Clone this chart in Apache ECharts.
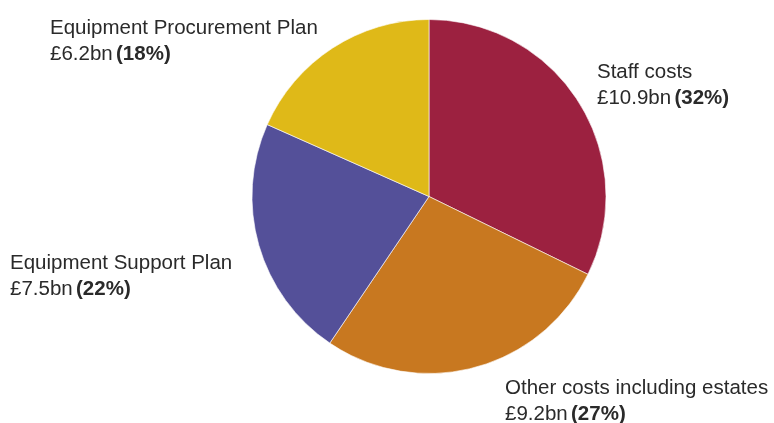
<!DOCTYPE html>
<html><head><meta charset="utf-8">
<script src="https://cdn.jsdelivr.net/npm/echarts@6/dist/echarts.min.js"></script>
<style>html,body{margin:0;padding:0;background:#fff}#c{width:774px;height:423px}</style>
</head><body><div id="c"></div>
<script>
const categories = ['Staff costs', 'Other costs including estates', 'Equipment Support Plan', 'Equipment Procurement Plan'];
const valuesBn = [10.9, 9.2, 7.5, 6.2];
const percents = [32, 27, 22, 18];
const colors = ['#9C2140', '#C87820', '#545099', '#DFB918'];
const labelPos = [[597, 59], [505, 375], [10, 250], [50, 15]];

const chart = echarts.init(document.getElementById('c'));
chart.setOption({
  animation: false,
  series: [{
    type: 'pie',
    center: [429, 196.5],
    radius: [0, 177],
    startAngle: 90,
    clockwise: true,
    data: categories.map((n, i) => ({ name: n, value: valuesBn[i], itemStyle: { color: colors[i] } })),
    itemStyle: { borderColor: '#fff', borderWidth: 0.6 },
    labelLine: { show: false },
    label: {
      show: true,
      position: 'outside',
      overflow: 'none',
      formatter: p => '{n|' + p.name + '}\n{n|£' + valuesBn[p.dataIndex] + 'bn} {b|(' + percents[p.dataIndex] + '%)}',
      rich: {
        n: { fontFamily: 'Liberation Sans, Arial, sans-serif', fontSize: 20.5, color: '#2a2a2a', lineHeight: 26 },
        b: { fontFamily: 'Liberation Sans, Arial, sans-serif', fontSize: 20.5, color: '#2a2a2a', fontWeight: 'bold', lineHeight: 26 }
      }
    },
    labelLayout: p => ({ x: labelPos[p.dataIndex][0], y: labelPos[p.dataIndex][1], align: 'left', verticalAlign: 'top', hideOverlap: false })
  }]
});
</script></body></html>
